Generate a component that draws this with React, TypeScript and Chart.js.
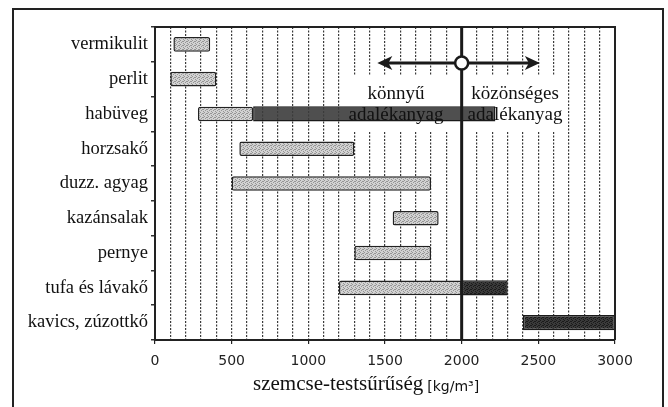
import React, { useEffect, useRef } from 'react';
import { Chart, registerables } from 'chart.js';

Chart.register(...registerables);

// ---- data ----
const categories = [
  'vermikulit',
  'perlit',
  'habüveg',
  'horzsakő',
  'duzz. agyag',
  'kazánsalak',
  'pernye',
  'tufa és lávakő',
  'kavics, zúzottkő',
];
// light (stippled) ranges [from, to] in kg/m³
const lightRanges: ([number, number] | null)[] = [
  [120, 360],
  [100, 400],
  [280, 640],
  [550, 1300],
  [500, 1800],
  [1550, 1850],
  [1300, 1800],
  [1200, 2000],
  null,
];
// dark ranges [from, to] in kg/m³
const darkRanges: ([number, number] | null)[] = [
  null,
  null,
  [640, 2220],
  null,
  null,
  null,
  null,
  [2000, 2300],
  [2400, 3000],
];
const xMin = 0;
const xMax = 3000;
const xGridStep = 100;
const xLabelStep = 500;
const boundaryValue = 2000;
const arrowFrom = 1450;
const arrowTo = 2510;
const leftLabel = ['könnyű', 'adalékanyag'];
const rightLabel = ['közönséges', 'adalékanyag'];
const leftLabelCenter = 1572;
const rightLabelCenter = 2348;
const whiteBoxFrom = 1230;
const whiteBoxTo = 2650;
const axisTitle = 'szemcse-testsűrűség';
const axisUnit = '[kg/m³]';

function makePattern(base: string, dot: string) {
  const c = document.createElement('canvas');
  c.width = 4;
  c.height = 4;
  const g = c.getContext('2d')!;
  g.fillStyle = base;
  g.fillRect(0, 0, 4, 4);
  g.fillStyle = dot;
  [[0, 0], [2, 1], [1, 2], [3, 3], [3, 1]].forEach(([x, y]) => g.fillRect(x, y, 1, 1));
  return g.createPattern(c, 'repeat')!;
}

const annotPlugin = {
  id: 'annot',
  beforeDatasetsDraw(chart: any) {
    const { ctx, chartArea: a, scales } = chart;
    const x = scales.x;
    const x0 = x.getPixelForValue(whiteBoxFrom);
    const x1 = x.getPixelForValue(whiteBoxTo);
    ctx.save();
    ctx.fillStyle = '#ffffff';
    ctx.fillRect(x0, a.top + 49, x1 - x0, 56);
    ctx.restore();
  },
  afterDatasetsDraw(chart: any) {
    const { ctx, chartArea: a, scales } = chart;
    const x = scales.x;
    const y = scales.y;
    ctx.save();
    // plot frame top & right
    ctx.strokeStyle = '#222';
    ctx.lineWidth = 2;
    ctx.beginPath();
    ctx.moveTo(a.left, a.top);
    ctx.lineTo(a.right, a.top);
    ctx.lineTo(a.right, a.bottom);
    ctx.stroke();

    // boundary line at 2000
    const bx = x.getPixelForValue(boundaryValue);
    ctx.lineWidth = 3;
    ctx.strokeStyle = '#1a1a1a';
    ctx.beginPath();
    ctx.moveTo(bx, a.top);
    ctx.lineTo(bx, a.bottom);
    ctx.stroke();

    // double arrow
    const ay = a.top + 36;
    const lx = x.getPixelForValue(arrowFrom);
    const rx = x.getPixelForValue(arrowTo);
    ctx.lineWidth = 3;
    ctx.beginPath();
    ctx.moveTo(lx + 8, ay);
    ctx.lineTo(rx - 8, ay);
    ctx.stroke();
    ctx.fillStyle = '#1a1a1a';
    ctx.beginPath();
    ctx.moveTo(lx, ay);
    ctx.lineTo(lx + 15, ay - 7);
    ctx.lineTo(lx + 11, ay);
    ctx.lineTo(lx + 15, ay + 7);
    ctx.closePath();
    ctx.fill();
    ctx.beginPath();
    ctx.moveTo(rx, ay);
    ctx.lineTo(rx - 15, ay - 7);
    ctx.lineTo(rx - 11, ay);
    ctx.lineTo(rx - 15, ay + 7);
    ctx.closePath();
    ctx.fill();
    // circle
    ctx.beginPath();
    ctx.arc(bx, ay, 6.5, 0, Math.PI * 2);
    ctx.fillStyle = '#ffffff';
    ctx.fill();
    ctx.lineWidth = 2.5;
    ctx.stroke();

    // texts
    ctx.fillStyle = '#111';
    ctx.font = '19px "Liberation Serif", serif';
    ctx.textAlign = 'center';
    ctx.textBaseline = 'alphabetic';
    const l1 = a.top + 72;
    const l2 = y.getPixelForValue(2) + 6;
    const lc = x.getPixelForValue(leftLabelCenter);
    const rc = x.getPixelForValue(rightLabelCenter);
    ctx.fillText(leftLabel[0], lc, l1);
    ctx.fillText(leftLabel[1], lc, l2);
    ctx.fillText(rightLabel[0], rc, l1);
    ctx.fillText(rightLabel[1], rc, l2);
    ctx.restore();
  },
  afterDraw(chart: any) {
    const { ctx, chartArea: a } = chart;
    ctx.save();
    ctx.fillStyle = '#111';
    ctx.textAlign = 'left';
    ctx.textBaseline = 'alphabetic';
    ctx.font = '21px "Liberation Serif", serif';
    const startX = a.left + 98;
    const baseY = a.bottom + 50;
    ctx.fillText(axisTitle, startX, baseY);
    const w = ctx.measureText(axisTitle).width;
    ctx.font = '14px "DejaVu Sans", sans-serif';
    ctx.fillText(axisUnit, startX + w + 4, baseY + 1);
    ctx.restore();
  },
};

export default function App() {
  const ref = useRef<HTMLCanvasElement>(null);
  useEffect(() => {
    if (!ref.current) return;
    const lightPat = makePattern('#d2d2d2', '#959595');
    const darkPat = makePattern('#3a3a3a', '#1a1a1a');
    const darkColors = darkRanges.map((_, i) => (i === 2 ? 'rgba(60,60,60,0.9)' : darkPat));
    const chart = new Chart(ref.current, {
      type: 'bar',
      data: {
        labels: categories,
        datasets: [
          {
            data: lightRanges as any,
            backgroundColor: lightPat as any,
            borderColor: '#222',
            borderWidth: 1.5,
            borderSkipped: false,
            borderRadius: 2,
            grouped: false,
            barPercentage: 0.42,
            categoryPercentage: 1,
          } as any,
          {
            data: darkRanges as any,
            backgroundColor: darkColors as any,
            borderColor: '#1a1a1a',
            borderWidth: 1.5,
            borderSkipped: false,
            grouped: false,
            barPercentage: 0.44,
            categoryPercentage: 1,
          } as any,
        ],
      },
      options: {
        indexAxis: 'y',
        animation: false,
        responsive: true,
        maintainAspectRatio: false,
        layout: { padding: { top: 27, right: 53, left: 0, bottom: 0 } },
        plugins: {
          legend: { display: false },
          tooltip: { enabled: false },
          title: { display: false },
        },
        scales: {
          x: {
            type: 'linear',
            min: xMin,
            max: xMax,
            afterFit: (s: any) => {
              s.height = 67;
            },
            ticks: {
              stepSize: xGridStep,
              autoSkip: false,
              maxRotation: 0,
              padding: 9,
              color: '#222',
              font: { family: '"DejaVu Sans", sans-serif', size: 14 },
              callback: (v: any) => (Number(v) % xLabelStep === 0 ? String(v) : ''),
            },
            grid: {
              color: (c: any) =>
                c.tick && c.tick.value === boundaryValue ? 'rgba(0,0,0,0)' : '#3a3a3a',
              lineWidth: 1.2,
              drawTicks: true,
              tickLength: 4,
              tickColor: (c: any) =>
                c.tick && c.tick.value % xLabelStep === 0 ? '#222' : 'rgba(0,0,0,0)',
            },
            border: { color: '#222', width: 2, dash: [2, 1.5] },
          },
          y: {
            type: 'category',
            afterFit: (s: any) => {
              s.width = 155;
            },
            ticks: {
              color: '#111',
              padding: 3,
              font: { family: '"Liberation Serif", serif', size: 18.5 },
            },
            grid: {
              offset: true,
              drawOnChartArea: false,
              drawTicks: true,
              tickLength: 4,
              color: '#333',
              lineWidth: 1.5,
            },
            border: { color: '#222', width: 2 },
          },
        },
      } as any,
      plugins: [annotPlugin],
    });
    return () => chart.destroy();
  }, []);

  return (
    <div style={{ position: 'fixed', left: 0, top: 0, width: 668, height: 407, background: '#fff', overflow: 'hidden' }}>
      <div
        style={{
          position: 'absolute',
          left: 12,
          top: 8,
          width: 652,
          height: 420,
          border: '2px solid #222',
          boxSizing: 'border-box',
        }}
      />
      <div style={{ position: 'absolute', left: 0, top: 0, width: 668, height: 407 }}>
        <canvas ref={ref} />
      </div>
    </div>
  );
}
